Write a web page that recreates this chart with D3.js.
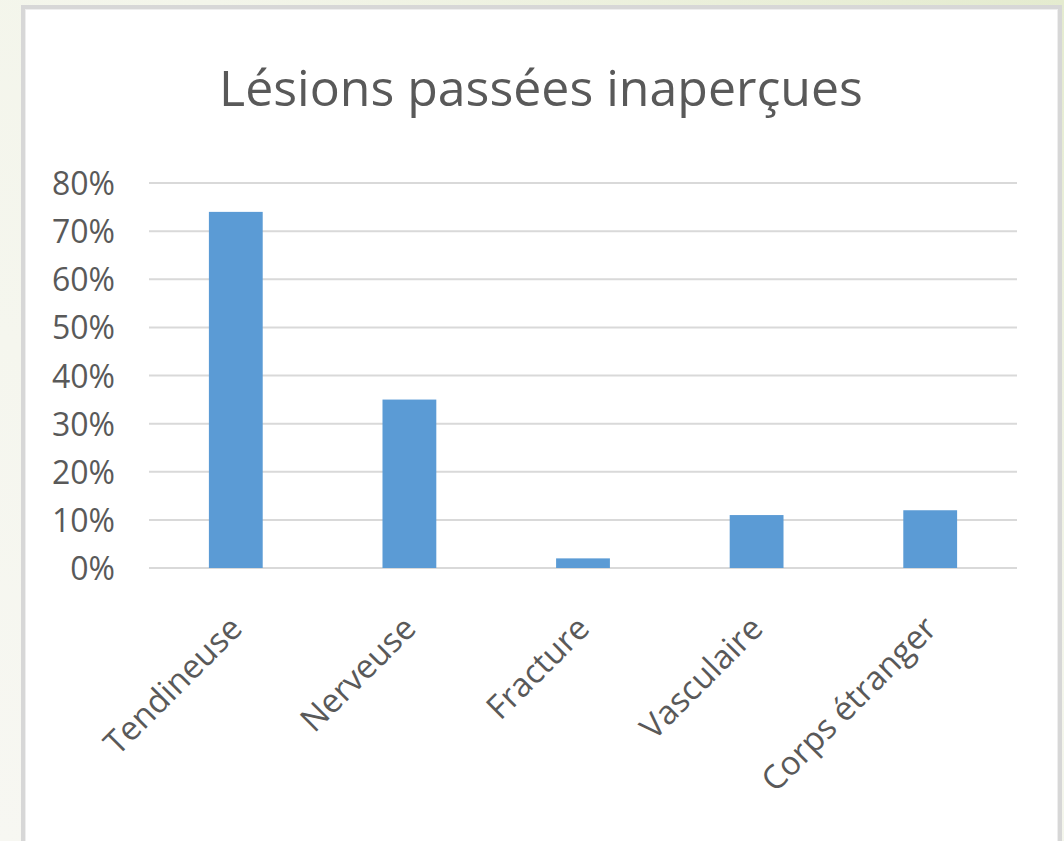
<!DOCTYPE html>
<html><head><meta charset="utf-8">
<script src="https://cdn.jsdelivr.net/npm/d3@7"></script>
<style>html,body{margin:0;padding:0;overflow:hidden;}svg{display:block;}</style>
</head><body>
<svg id="c" width="1064" height="841"></svg>
<script>
const categories = ["Tendineuse","Nerveuse","Fracture","Vasculaire","Corps étranger"];
const values = [0.74, 0.35, 0.02, 0.11, 0.12];
const yTicks = [0,0.1,0.2,0.3,0.4,0.5,0.6,0.7,0.8];
const title = "Lésions passées inaperçues";

const svg = d3.select("#c");
const defs = svg.append("defs");
const g = defs.append("linearGradient").attr("id","bg").attr("x1","0").attr("y1","1").attr("x2","1").attr("y2","0");
g.append("stop").attr("offset","0").attr("stop-color","#f7f7f2");
g.append("stop").attr("offset","0.6").attr("stop-color","#f3f5ea");
g.append("stop").attr("offset","1").attr("stop-color","#e4ebcf");
svg.append("rect").attr("width",1064).attr("height",841).attr("fill","url(#bg)");

// panel
svg.append("rect").attr("x",21).attr("y",5).attr("width",1041).attr("height",860).attr("fill","#d7d7d7");
svg.append("rect").attr("x",25).attr("y",9).attr("width",1033).attr("height",860).attr("fill","#eeeeee");
svg.append("rect").attr("x",26).attr("y",10).attr("width",1031).attr("height",860).attr("fill","#ffffff");

const font = "'Open Sans', sans-serif";
const x = d3.scaleBand().domain(categories).range([149,1017]).paddingInner(0.69).paddingOuter(0.345);
const y = d3.scaleLinear().domain([0,0.8]).range([568,183]);

// gridlines
svg.append("g").selectAll("line").data(yTicks).join("line")
  .attr("x1",149).attr("x2",1017).attr("y1",d=>y(d)).attr("y2",d=>y(d))
  .attr("stroke","#d9d9d9").attr("stroke-width",2);

// y axis labels
const yAxis = d3.axisLeft(y).tickValues(yTicks).tickFormat(d3.format(".0%")).tickSize(0).tickPadding(0);
const ya = svg.append("g").attr("transform","translate(115,0)").call(yAxis);
ya.select(".domain").remove();
ya.selectAll("text").attr("font-family",font).attr("font-size",32).attr("fill","#595959").attr("dy","0.36em");

// bars
svg.append("g").selectAll("rect").data(values).join("rect")
  .attr("x",(d,i)=>x(categories[i])).attr("width",x.bandwidth())
  .attr("y",d=>y(d)).attr("height",d=>y(0)-y(d))
  .attr("fill","#5b9bd5");

// x labels
const xAxis = d3.axisBottom(x).tickSize(0).tickPadding(0);
const xa = svg.append("g").attr("transform","translate(0,600)").call(xAxis);
xa.select(".domain").remove();
xa.selectAll("text").attr("font-family",font).attr("font-size",33).attr("fill","#595959")
  .attr("text-anchor","end").attr("dy","0.7em")
  .attr("transform","translate(-8,14) rotate(-45)");

// title
svg.append("text").attr("x",541).attr("y",106).attr("text-anchor","middle")
  .attr("font-family",font).attr("font-size",50).attr("fill","#595959").text(title);
</script>
</body></html>
